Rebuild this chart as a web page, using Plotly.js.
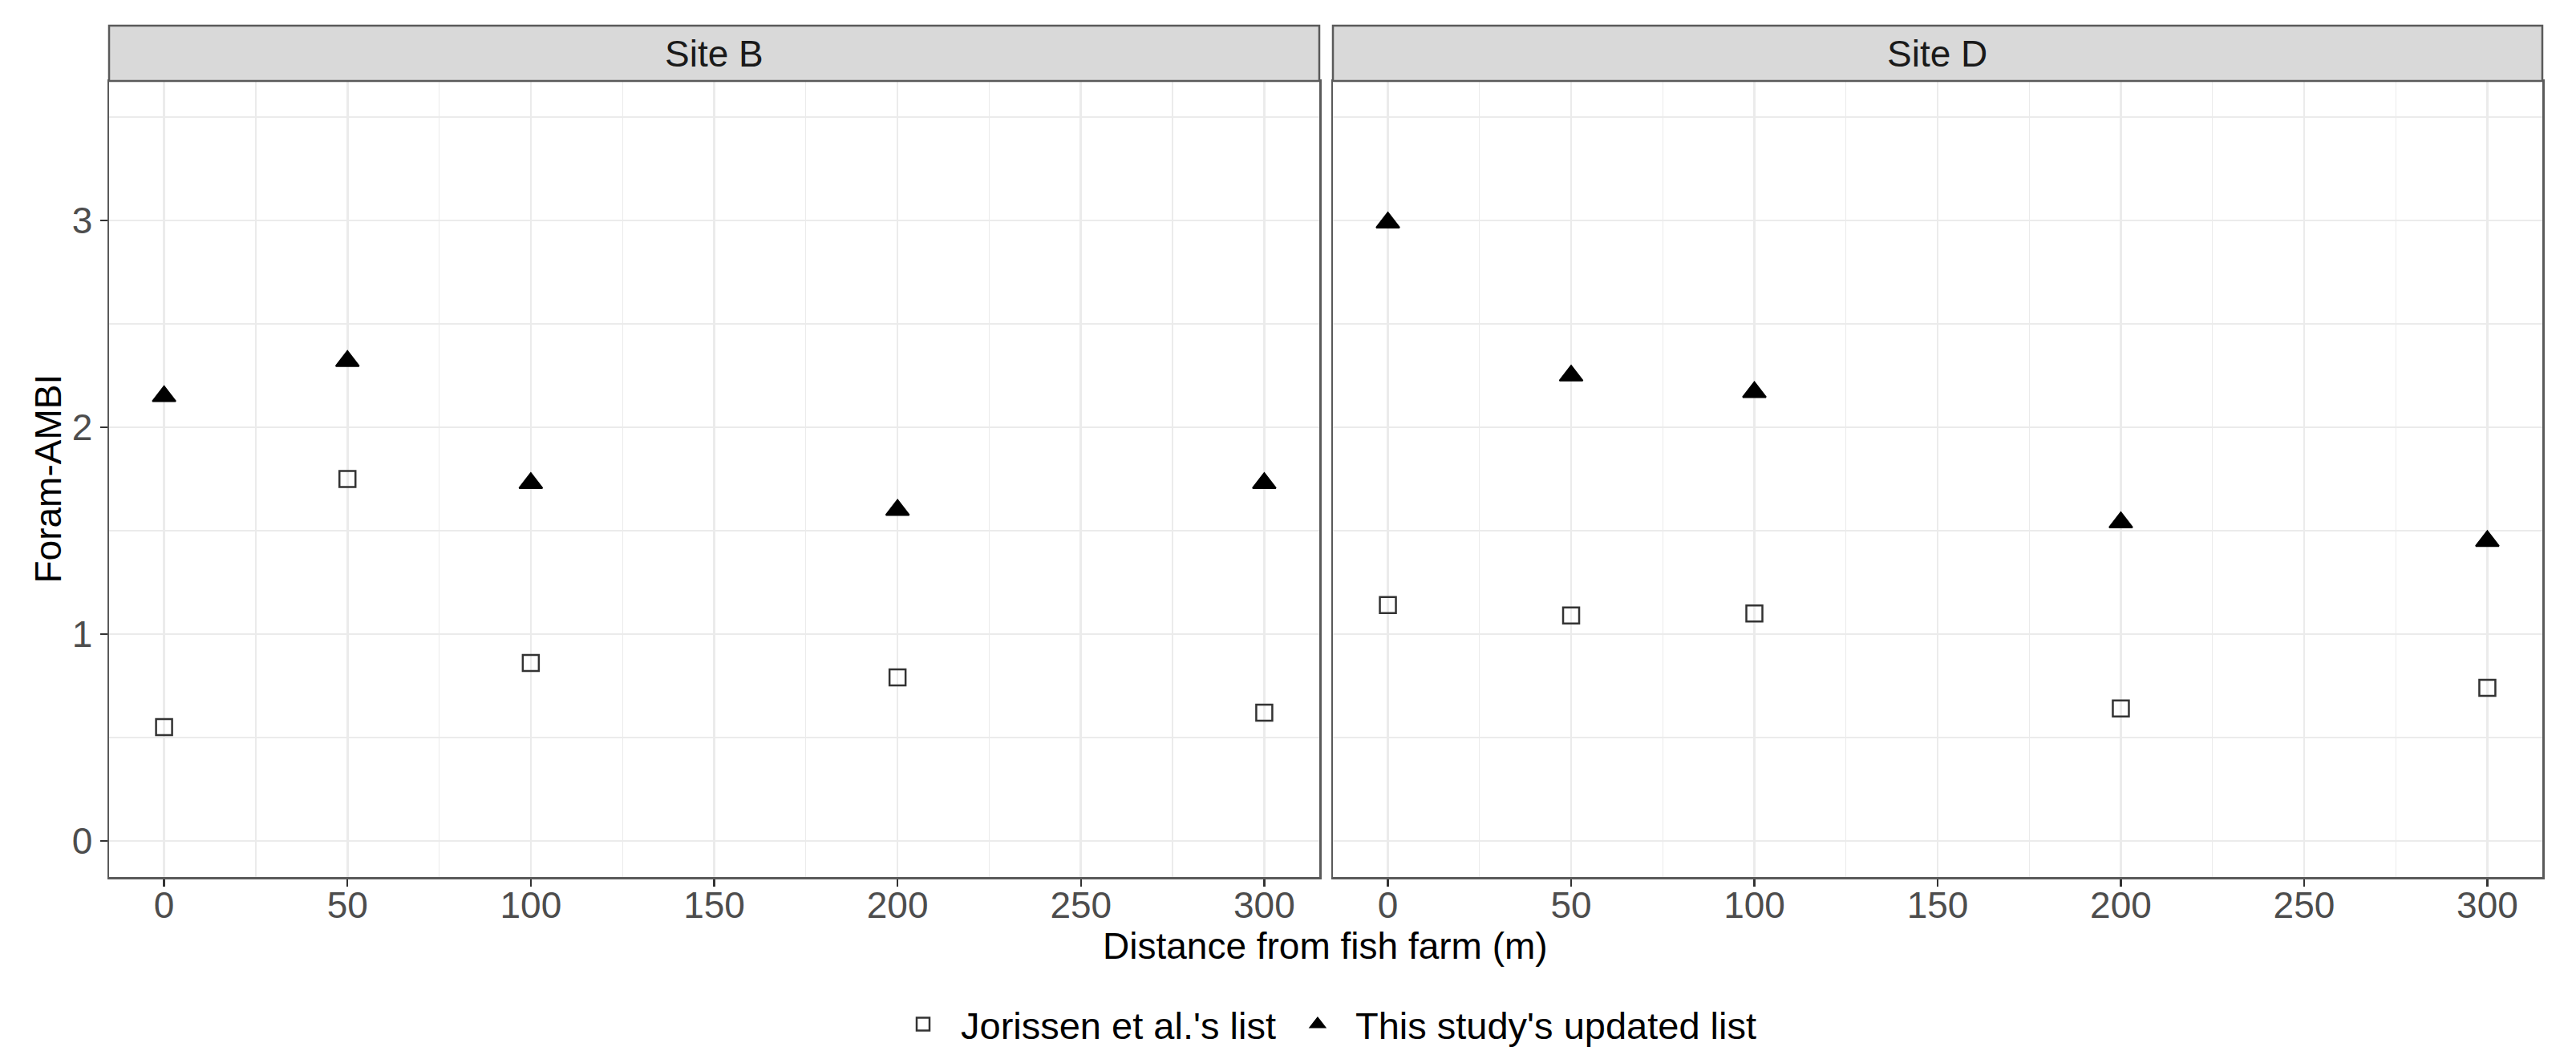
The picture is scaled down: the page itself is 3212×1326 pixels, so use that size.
<!DOCTYPE html>
<html>
<head>
<meta charset="utf-8">
<script src="https://cdn.plot.ly/plotly-3.0.1.min.js"></script>
<style>
  html, body { margin: 0; padding: 0; background: #ffffff; }
  #chart { width: 3212px; height: 1326px; }
</style>
</head>
<body>
<div id="chart"></div>
<script>
// ---- data ----
const distances = [0, 50, 100, 200, 300];
const sites = ['Site B', 'Site D'];
const seriesNames = ["Jorissen et al.'s list", "This study's updated list"];
const siteB_jorissen = [0.55, 1.75, 0.86, 0.79, 0.62];
const siteB_updated  = [2.15, 2.32, 1.73, 1.60, 1.73];
const siteD_jorissen = [1.14, 1.09, 1.10, 0.64, 0.74];
const siteD_updated  = [2.99, 2.25, 2.17, 1.54, 1.45];
const xTickVals = [0, 50, 100, 150, 200, 250, 300];
const yTickVals = [0, 1, 2, 3];
const xTitle = 'Distance from fish farm (m)';
const yTitle = 'Foram-AMBI';

// ---- geometry (paper fractions) ----
const W = 3212, H = 1326;
const pxX = v => v / W;
const pxY = v => 1 - v / H;
const panelTop = 101, panelBottom = 1094, stripTop = 32;
const leftDom = [pxX(136), pxX(1645)];
const rightDom = [pxX(1662), pxX(3170)];
const yDom = [pxY(panelBottom), pxY(panelTop)];

const FONT = 'Liberation Sans, Arial, Helvetica, sans-serif';
const borderColor = '#5a5a5a';

const squareMarker = { symbol: 'square-open', size: 20, color: '#333333', line: { color: '#333333', width: 2.5 } };
const triMarker = { symbol: 'triangle-up', size: 25, color: '#000000', line: { color: '#000000', width: 2 } };

const traces = [
  { x: distances, y: siteB_jorissen, xaxis: 'x', yaxis: 'y', type: 'scatter', mode: 'markers',
    name: seriesNames[0], legendgroup: 'j', showlegend: true, marker: squareMarker },
  { x: distances, y: siteD_jorissen, xaxis: 'x2', yaxis: 'y2', type: 'scatter', mode: 'markers',
    name: seriesNames[0], legendgroup: 'j', showlegend: false, marker: squareMarker },
  { x: distances, y: siteB_updated, xaxis: 'x', yaxis: 'y', type: 'scatter', mode: 'markers',
    name: seriesNames[1], legendgroup: 'u', showlegend: true, marker: triMarker },
  { x: distances, y: siteD_updated, xaxis: 'x2', yaxis: 'y2', type: 'scatter', mode: 'markers',
    name: seriesNames[1], legendgroup: 'u', showlegend: false, marker: triMarker }
];

function xAxis(domain, anchor) {
  return {
    domain: domain, anchor: anchor, range: [-15, 315],
    tickmode: 'array', tickvals: xTickVals, ticktext: xTickVals.map(String),
    ticks: 'outside', ticklen: 9, tickwidth: 2.5, tickcolor: '#333333',
    ticklabelstandoff: -16,
    showgrid: true, gridcolor: '#ebebeb', gridwidth: 2.7,
    minor: { dtick: 25, tick0: 0, showgrid: true, gridcolor: '#ebebeb', gridwidth: 1.3, ticks: '' },
    zeroline: false, showline: true, mirror: true, linecolor: borderColor, linewidth: 2.5,
    tickfont: { family: FONT, size: 46, color: '#4d4d4d' },
    automargin: false, fixedrange: true
  };
}
function yAxis(anchor, showLabels) {
  return {
    domain: yDom, anchor: anchor, range: [-0.175, 3.675],
    tickmode: 'array', tickvals: yTickVals, ticktext: yTickVals.map(String),
    showticklabels: showLabels,
    ticks: showLabels ? 'outside' : '', ticklen: 9, tickwidth: 2.5, tickcolor: '#333333',
    showgrid: true, gridcolor: '#ebebeb', gridwidth: 2.7,
    minor: { dtick: 0.5, tick0: 0, showgrid: true, gridcolor: '#ebebeb', gridwidth: 1.3, ticks: '' },
    zeroline: false, showline: true, mirror: true, linecolor: borderColor, linewidth: 2.5,
    tickfont: { family: FONT, size: 46, color: '#4d4d4d' },
    automargin: false, fixedrange: true
  };
}

const layout = {
  width: W, height: H,
  margin: { l: 0, r: 0, t: 0, b: 0, pad: 0 },
  paper_bgcolor: '#ffffff', plot_bgcolor: '#ffffff',
  font: { family: FONT, size: 46, color: '#000000' },
  xaxis: xAxis(leftDom, 'y'),
  yaxis: yAxis('x', true),
  xaxis2: xAxis(rightDom, 'y2'),
  yaxis2: yAxis('x2', false),
  showlegend: true,
  legend: {
    orientation: 'h', x: pxX(1104), xanchor: 'left', y: pxY(1278), yanchor: 'middle',
    font: { family: FONT, size: 47, color: '#000000' },
    bgcolor: 'rgba(0,0,0,0)', itemwidth: 84, tracegroupgap: 0
  },
  shapes: [
    { type: 'rect', xref: 'paper', yref: 'paper', x0: leftDom[0], x1: leftDom[1], y0: yDom[1], y1: pxY(stripTop),
      fillcolor: '#d9d9d9', line: { color: borderColor, width: 2.5 }, layer: 'above' },
    { type: 'rect', xref: 'paper', yref: 'paper', x0: rightDom[0], x1: rightDom[1], y0: yDom[1], y1: pxY(stripTop),
      fillcolor: '#d9d9d9', line: { color: borderColor, width: 2.5 }, layer: 'above' }
  ],
  annotations: [
    { text: sites[0], xref: 'paper', yref: 'paper', x: (leftDom[0] + leftDom[1]) / 2, y: pxY((stripTop + panelTop) / 2),
      xanchor: 'center', yanchor: 'middle', showarrow: false, font: { family: FONT, size: 46, color: '#1a1a1a' } },
    { text: sites[1], xref: 'paper', yref: 'paper', x: (rightDom[0] + rightDom[1]) / 2, y: pxY((stripTop + panelTop) / 2),
      xanchor: 'center', yanchor: 'middle', showarrow: false, font: { family: FONT, size: 46, color: '#1a1a1a' } },
    { text: xTitle, xref: 'paper', yref: 'paper', x: (leftDom[0] + rightDom[1]) / 2, y: pxY(1180),
      xanchor: 'center', yanchor: 'middle', showarrow: false, font: { family: FONT, size: 46, color: '#000000' } },
    { text: yTitle, xref: 'paper', yref: 'paper', x: pxX(60), y: (yDom[0] + yDom[1]) / 2,
      xanchor: 'center', yanchor: 'middle', textangle: -90, showarrow: false,
      font: { family: FONT, size: 46, color: '#000000' } }
  ]
};

Plotly.newPlot('chart', traces, layout, { displayModeBar: false, staticPlot: true });
</script>
</body>
</html>
